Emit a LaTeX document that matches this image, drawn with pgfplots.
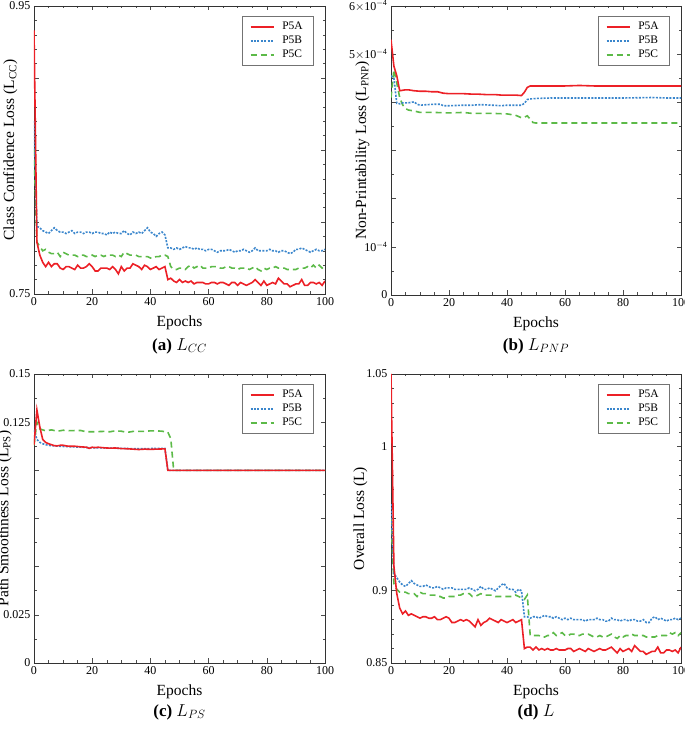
\documentclass[border=0pt]{standalone}
\usepackage{fontspec}
\setmainfont{Liberation Serif}
\usepackage{pgfplots}
\usepackage{pgfplotstable}
\pgfplotsset{compat=1.18}

\definecolor{cA}{RGB}{236,32,38}
\definecolor{cB}{RGB}{58,134,204}
\definecolor{cC}{RGB}{92,186,72}

\pgfplotstableread{
ep A B C
0 0.933 0.870 0.850
1 0.786 0.797 0.786
2 0.777 0.796 0.783
3 0.772 0.794 0.780
4 0.769 0.793 0.781
5 0.772 0.792 0.779
6 0.769 0.794 0.778
7 0.771 0.796 0.778
8 0.771 0.794 0.779
9 0.768 0.793 0.776
10 0.767 0.793 0.779
11 0.769 0.792 0.778
12 0.769 0.793 0.777
13 0.768 0.794 0.777
14 0.767 0.792 0.777
15 0.770 0.793 0.776
16 0.768 0.793 0.777
17 0.768 0.792 0.777
18 0.769 0.793 0.776
19 0.771 0.793 0.776
20 0.769 0.792 0.777
21 0.766 0.793 0.776
22 0.766 0.793 0.777
23 0.768 0.792 0.777
24 0.768 0.792 0.776
25 0.768 0.791 0.777
26 0.767 0.793 0.777
27 0.769 0.792 0.777
28 0.767 0.793 0.776
29 0.764 0.792 0.777
30 0.769 0.792 0.776
31 0.766 0.794 0.779
32 0.768 0.792 0.778
33 0.768 0.791 0.777
34 0.771 0.793 0.777
35 0.770 0.792 0.777
36 0.769 0.793 0.776
37 0.767 0.792 0.776
38 0.770 0.794 0.776
39 0.769 0.796 0.776
40 0.767 0.793 0.775
41 0.768 0.792 0.775
42 0.769 0.790 0.776
43 0.767 0.792 0.776
44 0.768 0.793 0.777
45 0.769 0.791 0.777
46 0.760 0.782 0.776
47 0.761 0.782 0.769
48 0.759 0.781 0.767
49 0.758 0.782 0.767
50 0.760 0.781 0.768
51 0.758 0.782 0.768
52 0.759 0.783 0.767
53 0.758 0.782 0.769
54 0.759 0.782 0.770
55 0.757 0.781 0.768
56 0.758 0.782 0.769
57 0.758 0.781 0.770
58 0.758 0.781 0.768
59 0.757 0.780 0.768
60 0.757 0.781 0.768
61 0.758 0.781 0.769
62 0.758 0.780 0.769
63 0.757 0.779 0.769
64 0.758 0.780 0.768
65 0.758 0.780 0.768
66 0.757 0.780 0.769
67 0.756 0.781 0.769
68 0.758 0.780 0.768
69 0.758 0.779 0.768
70 0.756 0.780 0.767
71 0.758 0.780 0.768
72 0.757 0.781 0.768
73 0.756 0.780 0.768
74 0.757 0.779 0.767
75 0.758 0.780 0.768
76 0.760 0.782 0.769
77 0.758 0.780 0.767
78 0.756 0.780 0.766
79 0.759 0.780 0.768
80 0.756 0.780 0.767
81 0.757 0.781 0.768
82 0.758 0.780 0.768
83 0.757 0.780 0.769
84 0.761 0.779 0.768
85 0.759 0.780 0.768
86 0.757 0.780 0.768
87 0.757 0.779 0.767
88 0.755 0.778 0.767
89 0.756 0.779 0.767
90 0.757 0.781 0.767
91 0.757 0.781 0.768
92 0.760 0.782 0.768
93 0.756 0.781 0.768
94 0.756 0.780 0.769
95 0.758 0.779 0.768
96 0.758 0.780 0.770
97 0.757 0.781 0.768
98 0.758 0.780 0.770
99 0.756 0.780 0.768
100 0.759 0.781 0.770
}\tabCC

\pgfplotstableread{
ep A B C
0 1.050 0.960 0.950
1 0.917 0.912 0.905
2 0.898 0.909 0.901
3 0.888 0.906 0.899
4 0.884 0.904 0.899
5 0.886 0.903 0.899
6 0.883 0.905 0.898
7 0.884 0.907 0.898
8 0.883 0.905 0.898
9 0.882 0.904 0.896
10 0.881 0.903 0.899
11 0.882 0.903 0.898
12 0.882 0.904 0.898
13 0.881 0.903 0.897
14 0.881 0.902 0.897
15 0.882 0.902 0.897
16 0.880 0.903 0.896
17 0.880 0.902 0.896
18 0.881 0.901 0.895
19 0.882 0.902 0.895
20 0.881 0.902 0.896
21 0.878 0.902 0.896
22 0.878 0.901 0.896
23 0.879 0.901 0.897
24 0.880 0.901 0.897
25 0.879 0.901 0.898
26 0.880 0.901 0.898
27 0.879 0.902 0.898
28 0.877 0.901 0.896
29 0.875 0.900 0.896
30 0.880 0.901 0.897
31 0.876 0.903 0.898
32 0.878 0.901 0.897
33 0.879 0.901 0.897
34 0.881 0.902 0.897
35 0.880 0.901 0.897
36 0.879 0.900 0.896
37 0.878 0.902 0.896
38 0.880 0.904 0.896
39 0.879 0.905 0.896
40 0.878 0.902 0.896
41 0.879 0.901 0.896
42 0.880 0.901 0.896
43 0.878 0.899 0.897
44 0.879 0.901 0.896
45 0.880 0.900 0.895
46 0.860 0.882 0.894
47 0.861 0.882 0.897
48 0.861 0.881 0.869
49 0.859 0.882 0.869
50 0.861 0.882 0.869
51 0.859 0.881 0.869
52 0.860 0.882 0.868
53 0.859 0.883 0.868
54 0.860 0.882 0.869
55 0.859 0.882 0.869
56 0.859 0.881 0.871
57 0.860 0.882 0.869
58 0.859 0.881 0.870
59 0.859 0.880 0.871
60 0.859 0.881 0.869
61 0.860 0.880 0.869
62 0.860 0.881 0.870
63 0.858 0.880 0.870
64 0.859 0.880 0.869
65 0.860 0.880 0.869
66 0.859 0.880 0.870
67 0.858 0.879 0.870
68 0.860 0.880 0.870
69 0.859 0.880 0.869
70 0.858 0.880 0.868
71 0.859 0.881 0.868
72 0.860 0.880 0.869
73 0.859 0.880 0.868
74 0.859 0.879 0.868
75 0.860 0.879 0.869
76 0.861 0.881 0.870
77 0.859 0.880 0.868
78 0.857 0.880 0.867
79 0.860 0.879 0.869
80 0.858 0.880 0.868
81 0.859 0.880 0.869
82 0.860 0.879 0.869
83 0.858 0.880 0.870
84 0.862 0.880 0.869
85 0.860 0.879 0.869
86 0.858 0.879 0.869
87 0.858 0.880 0.869
88 0.856 0.878 0.868
89 0.857 0.878 0.868
90 0.858 0.881 0.868
91 0.858 0.882 0.868
92 0.861 0.880 0.869
93 0.857 0.881 0.869
94 0.857 0.880 0.869
95 0.859 0.879 0.869
96 0.859 0.880 0.871
97 0.858 0.880 0.870
98 0.859 0.881 0.871
99 0.857 0.880 0.869
100 0.861 0.881 0.871
}\tabL

\pgfplotsset{
  lossax/.style={
    scale only axis,
    width=291pt, height=288pt,
    xmin=0, xmax=100,
    xtick={0,20,40,60,80,100},
    minor x tick num=3,
    axis line style={black!80, line width=0.6pt},
    every tick/.style={black!70, line width=0.5pt},
    major tick length=4.5pt, minor tick length=2.5pt,
    tick label style={font=\fontsize{12}{13}\selectfont},
    /pgf/number format/assume math mode=true,
    xlabel={Epochs},
    xlabel style={font=\fontsize{15.5}{17}\selectfont, at={(axis description cs:0.5,0)}, anchor=center, yshift=-29pt},
    ylabel style={font=\fontsize{15.5}{17}\selectfont, anchor=south},
    reverse legend,
    legend cell align=left,
    legend style={at={(1,1)}, anchor=north east, xshift=-12pt, yshift=-10pt,
      draw=black!55, font=\fontsize{11.5}{13}\selectfont,
      inner xsep=8pt, inner ysep=4pt, row sep=1pt,
      /tikz/every odd column/.append style={column sep=6pt}},
    legend image code/.code={\draw[#1, line width=1.6pt] (0pt,0pt) -- (23pt,0pt);},
    clip=true,
  },
  pA/.style={cA, line width=1.6pt},
  pB/.style={cB, line width=1.6pt, dash pattern=on 2pt off 1.4pt},
  pC/.style={cC, line width=1.6pt, dash pattern=on 6pt off 4pt},
}

\begin{document}
\begin{tikzpicture}
\useasboundingbox (0pt,0pt) rectangle (685pt,729pt);

% (a)
\begin{axis}[lossax, at={(34pt,435pt)}, anchor=south west,
  ymin=0.75, ymax=0.95,
  ytick={0.75,0.8,0.85,0.9,0.95}, yticklabels={0.75,,,,0.95},
  minor y tick num=4,
  ylabel={Class Confidence Loss (L\textsubscript{CC})},
  ylabel style={at={(axis description cs:-0.045,0.5)}}]
\addplot[pC] table[x=ep,y=C] {\tabCC};
\addplot[pB] table[x=ep,y=B] {\tabCC};
\addplot[pA] table[x=ep,y=A] {\tabCC};
\legend{P5C,P5B,P5A}
\end{axis}

% (b)
\begin{axis}[lossax, at={(391pt,434pt)}, anchor=south west, width=290pt, height=289pt,
  ymin=0, ymax=6e-4, scaled y ticks=false,
  ytick={0,1e-4,2e-4,3e-4,4e-4,5e-4,6e-4},
  yticklabels={0,{10\textsuperscript{$-$4}},,,,{5$\times$10\textsuperscript{$-$4}},{6$\times$10\textsuperscript{$-$4}}},
  minor y tick num=1,
  ylabel={Non-Printability Loss (L\textsubscript{PNP})},
  ylabel style={at={(axis description cs:-0.062,0.5)}}]
\addplot[pC] coordinates {(0,4.10e-4) (1,4.68e-4) (2,4.40e-4) (3,4.10e-4) (4,3.95e-4) (5,3.87e-4) (6,3.84e-4) (8,3.82e-4) (10,3.79e-4) (15,3.79e-4) (20,3.78e-4) (25,3.79e-4) (28,3.77e-4) (30,3.77e-4) (35,3.77e-4) (40,3.76e-4) (43,3.73e-4) (45,3.68e-4) (46,3.69e-4) (47,3.72e-4) (48,3.65e-4) (49,3.58e-4) (50,3.57e-4) (60,3.57e-4) (70,3.57e-4) (80,3.57e-4) (90,3.57e-4) (100,3.57e-4)};
\addplot[pB] coordinates {(0,4.55e-4) (1,4.50e-4) (2,3.98e-4) (3,3.97e-4) (4,3.99e-4) (5,3.99e-4) (6,3.99e-4) (7,4.00e-4) (8,4.01e-4) (9,3.96e-4) (10,3.94e-4) (12,3.95e-4) (15,3.96e-4) (17,3.96e-4) (18,3.93e-4) (20,3.93e-4) (25,3.94e-4) (28,3.94e-4) (30,3.95e-4) (32,3.95e-4) (35,3.94e-4) (38,3.93e-4) (40,3.94e-4) (45,3.94e-4) (46,3.98e-4) (47,4.06e-4) (48,4.07e-4) (50,4.08e-4) (55,4.09e-4) (60,4.09e-4) (70,4.09e-4) (80,4.09e-4) (90,4.10e-4) (95,4.09e-4) (100,4.09e-4)};
\addplot[pA] coordinates {(0,5.30e-4) (1,4.75e-4) (2,4.55e-4) (3,4.24e-4) (4,4.25e-4) (5,4.26e-4) (6,4.26e-4) (7,4.25e-4) (8,4.24e-4) (10,4.23e-4) (12,4.23e-4) (14,4.22e-4) (16,4.22e-4) (18,4.19e-4) (20,4.18e-4) (22,4.18e-4) (25,4.18e-4) (28,4.17e-4) (30,4.17e-4) (33,4.16e-4) (36,4.16e-4) (38,4.15e-4) (40,4.15e-4) (43,4.15e-4) (45,4.14e-4) (46,4.21e-4) (47,4.31e-4) (48,4.34e-4) (50,4.34e-4) (55,4.34e-4) (60,4.34e-4) (65,4.35e-4) (70,4.34e-4) (75,4.34e-4) (80,4.34e-4) (85,4.34e-4) (90,4.34e-4) (95,4.34e-4) (100,4.34e-4)};
\legend{P5C,P5B,P5A}
\end{axis}

% (c)
\begin{axis}[lossax, at={(34pt,66pt)}, anchor=south west, height=289pt,
  ymin=0, ymax=0.15,
  ytick={0,0.025,0.05,0.075,0.1,0.125,0.15}, yticklabels={0,0.025,,,,0.125,0.15},
  minor y tick num=1,
  ylabel={Path Smoothness Loss (L\textsubscript{PS})},
  ylabel style={at={(axis description cs:-0.065,0.5)}}]
\addplot[pC] coordinates {(0,0.113) (1,0.125) (2,0.1215) (3,0.121) (4,0.1205) (6,0.121) (8,0.1203) (10,0.1208) (12,0.1206) (16,0.1207) (18,0.1200) (20,0.1200) (24,0.1202) (26,0.1200) (28,0.1205) (30,0.1203) (32,0.1197) (34,0.1202) (36,0.1202) (38,0.1202) (40,0.1205) (42,0.1205) (44,0.1203) (46,0.1198) (47,0.1165) (48,0.100) (60,0.100) (80,0.100) (100,0.100)};
\addplot[pB] coordinates {(0,0.121) (1,0.116) (2,0.1145) (3,0.1138) (4,0.1133) (5,0.1130) (6,0.1128) (8,0.1126) (10,0.1124) (15,0.1121) (20,0.1117) (25,0.1116) (30,0.1114) (35,0.1112) (40,0.1113) (45,0.1114) (46,0.100) (60,0.100) (80,0.100) (100,0.100)};
\addplot[pA] coordinates {(0,0.1133) (1,0.1314) (2,0.1225) (3,0.1160) (4,0.1145) (5,0.1138) (6,0.1133) (7,0.1128) (8,0.1127) (9,0.1130) (10,0.1130) (11,0.1127) (12,0.1125) (14,0.1125) (16,0.1122) (18,0.1120) (19,0.1114) (20,0.1120) (21,0.1118) (22,0.1120) (24,0.1117) (26,0.1115) (28,0.1116) (30,0.1113) (32,0.1112) (34,0.1110) (36,0.1108) (38,0.1110) (40,0.1109) (42,0.1110) (44,0.1111) (45,0.1111) (46,0.100) (60,0.100) (80,0.100) (100,0.100)};
\legend{P5C,P5B,P5A}
\end{axis}

% (d)
\begin{axis}[lossax, at={(391pt,66pt)}, anchor=south west, width=290pt, height=289pt,
  ymin=0.85, ymax=1.05,
  ytick={0.85,0.9,0.95,1,1.05}, yticklabels={0.85,0.9,,1,1.05},
  minor y tick num=4,
  ylabel={Overall Loss (L)},
  ylabel style={at={(axis description cs:-0.069,0.5)}}]
\addplot[pC] table[x=ep,y=C] {\tabL};
\addplot[pB] table[x=ep,y=B] {\tabL};
\addplot[pA] table[x=ep,y=A] {\tabL};
\legend{P5C,P5B,P5A}
\end{axis}

\node[font=\fontsize{17}{19}\selectfont] at (179.5pt,383pt) {\textbf{(a)} $L_{CC}$};
\node[font=\fontsize{17}{19}\selectfont] at (536pt,383pt) {\textbf{(b)} $L_{PNP}$};
\node[font=\fontsize{17}{19}\selectfont] at (179.5pt,17pt) {\textbf{(c)} $L_{PS}$};
\node[font=\fontsize{17}{19}\selectfont] at (536pt,17pt) {\textbf{(d)} $L$};
\end{tikzpicture}
\end{document}
